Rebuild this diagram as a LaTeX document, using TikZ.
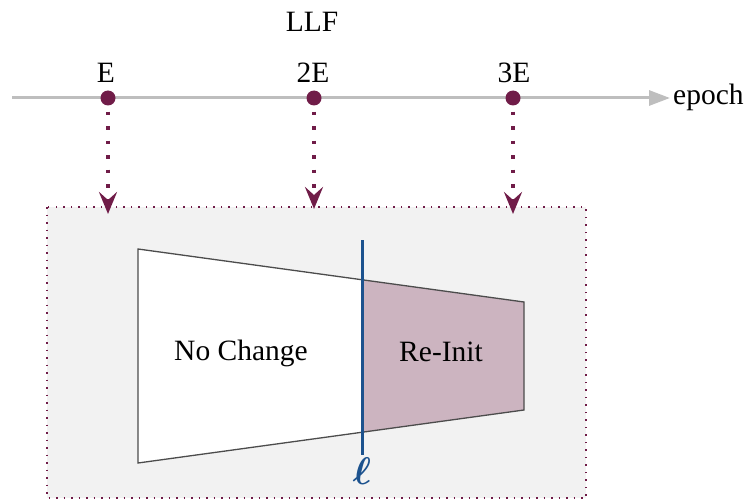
\documentclass[tikz,border=0pt]{standalone}
\usepackage{amsmath}
\usepackage{bm}
\usepackage{fontspec}
\setmainfont{Liberation Serif}
\usetikzlibrary{arrows.meta}
\definecolor{maroon}{RGB}{112,28,72}
\definecolor{tlgray}{RGB}{190,190,190}
\definecolor{boxgray}{RGB}{242,242,242}
\definecolor{mauve}{RGB}{204,180,192}
\definecolor{lblue}{RGB}{28,82,142}
\tikzset{
  lbl/.style={font=\fontsize{29.5}{32}\selectfont, inner sep=0pt},
  dotnode/.style={circle, fill=maroon, minimum size=15pt, inner sep=0pt},
  droparrow/.style={maroon, line width=3.5pt, dash pattern=on 3.5pt off 11pt,
     -{Stealth[length=22pt,width=18pt,inset=8pt]}},
}
\begin{document}
\begin{tikzpicture}[x=1pt,y=-1pt]
\useasboundingbox (0,0) rectangle (749,500);
% box
\fill[boxgray] (47,207) rectangle (586,498);
\draw[maroon, line width=1.5pt, dash pattern=on 1.5pt off 6pt] (47,207) rectangle (586,498);
% timeline
\coordinate (tlstart) at (12,98);
\coordinate (tlend) at (670,98);
\draw[tlgray, line width=3pt, -{Triangle[length=21pt,width=15pt]}] (tlstart) -- (tlend);
\node[lbl, anchor=west] (epoch) at (673,97) {epoch};
\node[lbl] (llf) at (312,22) {LLF};
\node[dotnode] (d1) at (108,98) {};
\node[dotnode] (d2) at (314,98) {};
\node[dotnode] (d3) at (513,98) {};
\node[lbl] (l1) at (106,73) {E};
\node[lbl] (l2) at (313,73) {2E};
\node[lbl] (l3) at (514,73) {3E};
\coordinate (t1) at (108,214);
\coordinate (t2) at (314,209);
\coordinate (t3) at (513,214);
\draw[droparrow] (d1.south) ++(0,6) -- (t1);
\draw[droparrow] (d2.south) ++(0,6) -- (t2);
\draw[droparrow] (d3.south) ++(0,6) -- (t3);
% trapezoid
\coordinate (A) at (138,249);
\coordinate (B) at (524,302);
\coordinate (C) at (524,410);
\coordinate (D) at (138,463);
\coordinate (P) at (362,279.8);
\coordinate (Q) at (362,432.2);
\fill[white] (A) -- (P) -- (Q) -- (D) -- cycle;
\fill[mauve] (P) -- (B) -- (C) -- (Q) -- cycle;
\draw[black!70, line width=1.3pt] (A) -- (B) -- (C) -- (D) -- cycle;
\coordinate (lt) at (362,240);
\coordinate (lb) at (362,455);
\draw[lblue, line width=3pt] (lt) -- (lb);
\node[lbl] (nc) at (241,353) {No Change};
\node[lbl] (ri) at (441,352) {Re-Init};
\node[lblue, font=\fontsize{24.88}{26}\selectfont, inner sep=0pt] (ell) at (362,471) {\scalebox{1.55}{$\bm{\ell}$}};
\end{tikzpicture}
\end{document}
